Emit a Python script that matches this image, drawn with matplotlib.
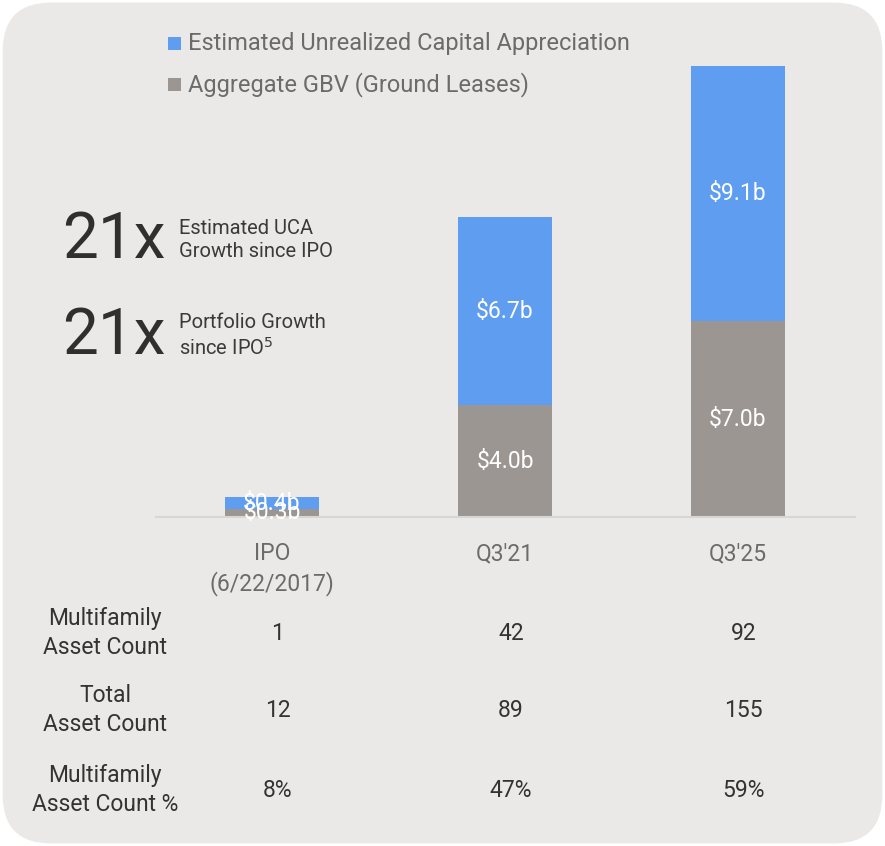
import matplotlib.pyplot as plt
import matplotlib.transforms as mtransforms
from matplotlib.patches import FancyBboxPatch, Rectangle

plt.rcParams["font.family"] = ["Roboto", "DejaVu Sans"]

categories = ["IPO\n(6/22/2017)", "Q3'21", "Q3'25"]
gbv = [0.3, 4.0, 7.0]
uca = [0.4, 6.7, 9.1]
gbv_labels = ["$0.3b", "$4.0b", "$7.0b"]
uca_labels = ["$0.4b", "$6.7b", "$9.1b"]

row_labels = ["Multifamily\nAsset Count", "Total\nAsset Count", "Multifamily\nAsset Count %"]
row_values = [["1", "42", "92"], ["12", "89", "155"], ["8%", "47%", "59%"]]

BLUE = "#5f9df0"
GRAY = "#9b9691"
BG = "#ebe9e7"
LABEL = "#6e6a69"
DARK = "#333333"

W, H = 885, 846
fig = plt.figure(figsize=(W / 100, H / 100), dpi=100)
fig.patch.set_facecolor("white")

# rounded panel background
panel = FancyBboxPatch((0.003, 0.003), 0.994, 0.994,
                       boxstyle="round,pad=0,rounding_size=0.055",
                       transform=fig.transFigure, facecolor=BG,
                       edgecolor="none", mutation_aspect=W / H, zorder=-5)
fig.patches.append(panel)

def fx(px):
    return px / W

def fy(py):
    return 1 - py / H

ax = fig.add_axes([fx(155.5), fy(517), fx(699), (517 - 41) / H])
ax.set_facecolor("none")
ax.set_zorder(2)
x = list(range(len(categories)))
ax.bar(x, gbv, width=0.4, color=GRAY, zorder=2)
ax.bar(x, uca, width=0.4, bottom=gbv, color=BLUE, zorder=2)
ax.set_xlim(-0.5, 2.5)
ax.set_ylim(0, 17)
for s in ["top", "right", "left"]:
    ax.spines[s].set_visible(False)
ax.spines["bottom"].set_color("#d8d6d4")
ax.spines["bottom"].set_linewidth(1.5)
ax.set_yticks([])
ax.set_xticks(x)
ax.set_xticklabels(categories, fontsize=16.5, color=LABEL, linespacing=1.3)
ax.tick_params(axis="x", length=0, pad=18)

for i in x:
    ax.text(i, gbv[i] / 2, gbv_labels[i], ha="center", va="center",
            color="white", fontsize=16.5, zorder=3)
    ax.text(i, gbv[i] + uca[i] / 2, uca_labels[i], ha="center", va="center",
            color="white", fontsize=16.5, zorder=3)

# legend
for py, col, txt in [(43.5, BLUE, "Estimated Unrealized Capital Appreciation"),
                     (84.5, GRAY, "Aggregate GBV (Ground Leases)")]:
    fig.patches.append(Rectangle((fx(168), fy(py + 6.5)), fx(13), 13 / H,
                                 transform=fig.transFigure, facecolor=col,
                                 edgecolor="none"))
    fig.text(fx(188), fy(py), txt, ha="left", va="center", fontsize=17,
             color=LABEL)

# growth callouts
for py, sub in [(240, "Estimated UCA\nGrowth since IPO"),
                (336, "Portfolio Growth\nsince IPO$^5$")]:
    fig.text(fx(62), fy(py), "21x", ha="left", va="center", fontsize=46,
             color="#2f2f2f")
    fig.text(fx(179), fy(py), sub, ha="left", va="center", fontsize=14.5,
             color="#3a3a3a", linespacing=1.3)

# table below the chart
tr = mtransforms.blended_transform_factory(ax.transData, fig.transFigure)
for r, py in enumerate([633, 710, 790]):
    fig.text(fx(105), fy(py), row_labels[r], ha="center", va="center",
             fontsize=16.5, color=DARK, linespacing=1.35)
    for i in x:
        ax.text(i + 0.025, fy(py), row_values[r][i], transform=tr, ha="center",
                va="center", fontsize=16.5, color=DARK, clip_on=False)

fig.savefig("out.png", dpi=100, facecolor=fig.get_facecolor())
